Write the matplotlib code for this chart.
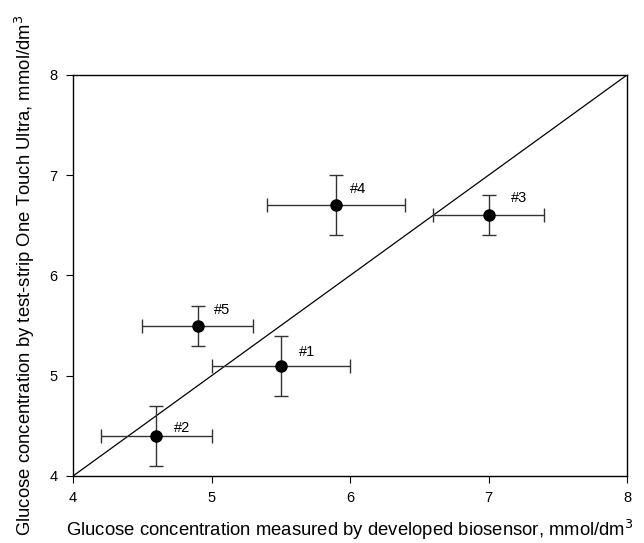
import matplotlib
matplotlib.use("Agg")
import matplotlib.pyplot as plt

plt.rcParams['font.family'] = ['Liberation Sans', 'DejaVu Sans']

labels = ["#1", "#2", "#3", "#4", "#5"]
x_vals = [5.5, 4.6, 7.0, 5.9, 4.9]
y_vals = [5.1, 4.4, 6.6, 6.7, 5.5]
x_err = [0.5, 0.4, 0.4, 0.5, 0.4]
y_err = [0.3, 0.3, 0.2, 0.3, 0.2]
label_x = [5.63, 4.73, 7.16, 6.0, 5.02]
label_y = [5.24, 4.48, 6.77, 6.86, 5.66]
ticks = [4, 5, 6, 7, 8]

fig = plt.figure(figsize=(6.44, 5.43), dpi=100)
ax = fig.add_axes([0.1134, 0.1234, 0.8602, 0.7385])

ax.plot([4, 8], [4, 8], color='black', lw=0.9)
ax.errorbar(x_vals, y_vals, xerr=x_err, yerr=y_err, fmt='o', color='black',
            ecolor='#333333', elinewidth=1.0, capsize=5, capthick=1.0, markersize=8)
for lx, ly, t in zip(label_x, label_y, labels):
    ax.text(lx, ly, t, fontsize=10.5, va='center', ha='left')

ax.set_xlim(4, 8)
ax.set_ylim(4, 8)
ax.set_xticks(ticks)
ax.set_yticks(ticks)
ax.tick_params(direction='out', length=5, width=0.8, labelsize=10.5, pad=6)
for s in ax.spines.values():
    s.set_linewidth(1.0)

ax.set_xlabel("Glucose concentration measured by developed biosensor, mmol/dm$^3$", fontsize=13.3, labelpad=9)
ax.set_ylabel("Glucose concentration by test-strip One Touch Ultra, mmol/dm$^3$", fontsize=13.3, labelpad=9)

fig.savefig("out.png", dpi=100)
